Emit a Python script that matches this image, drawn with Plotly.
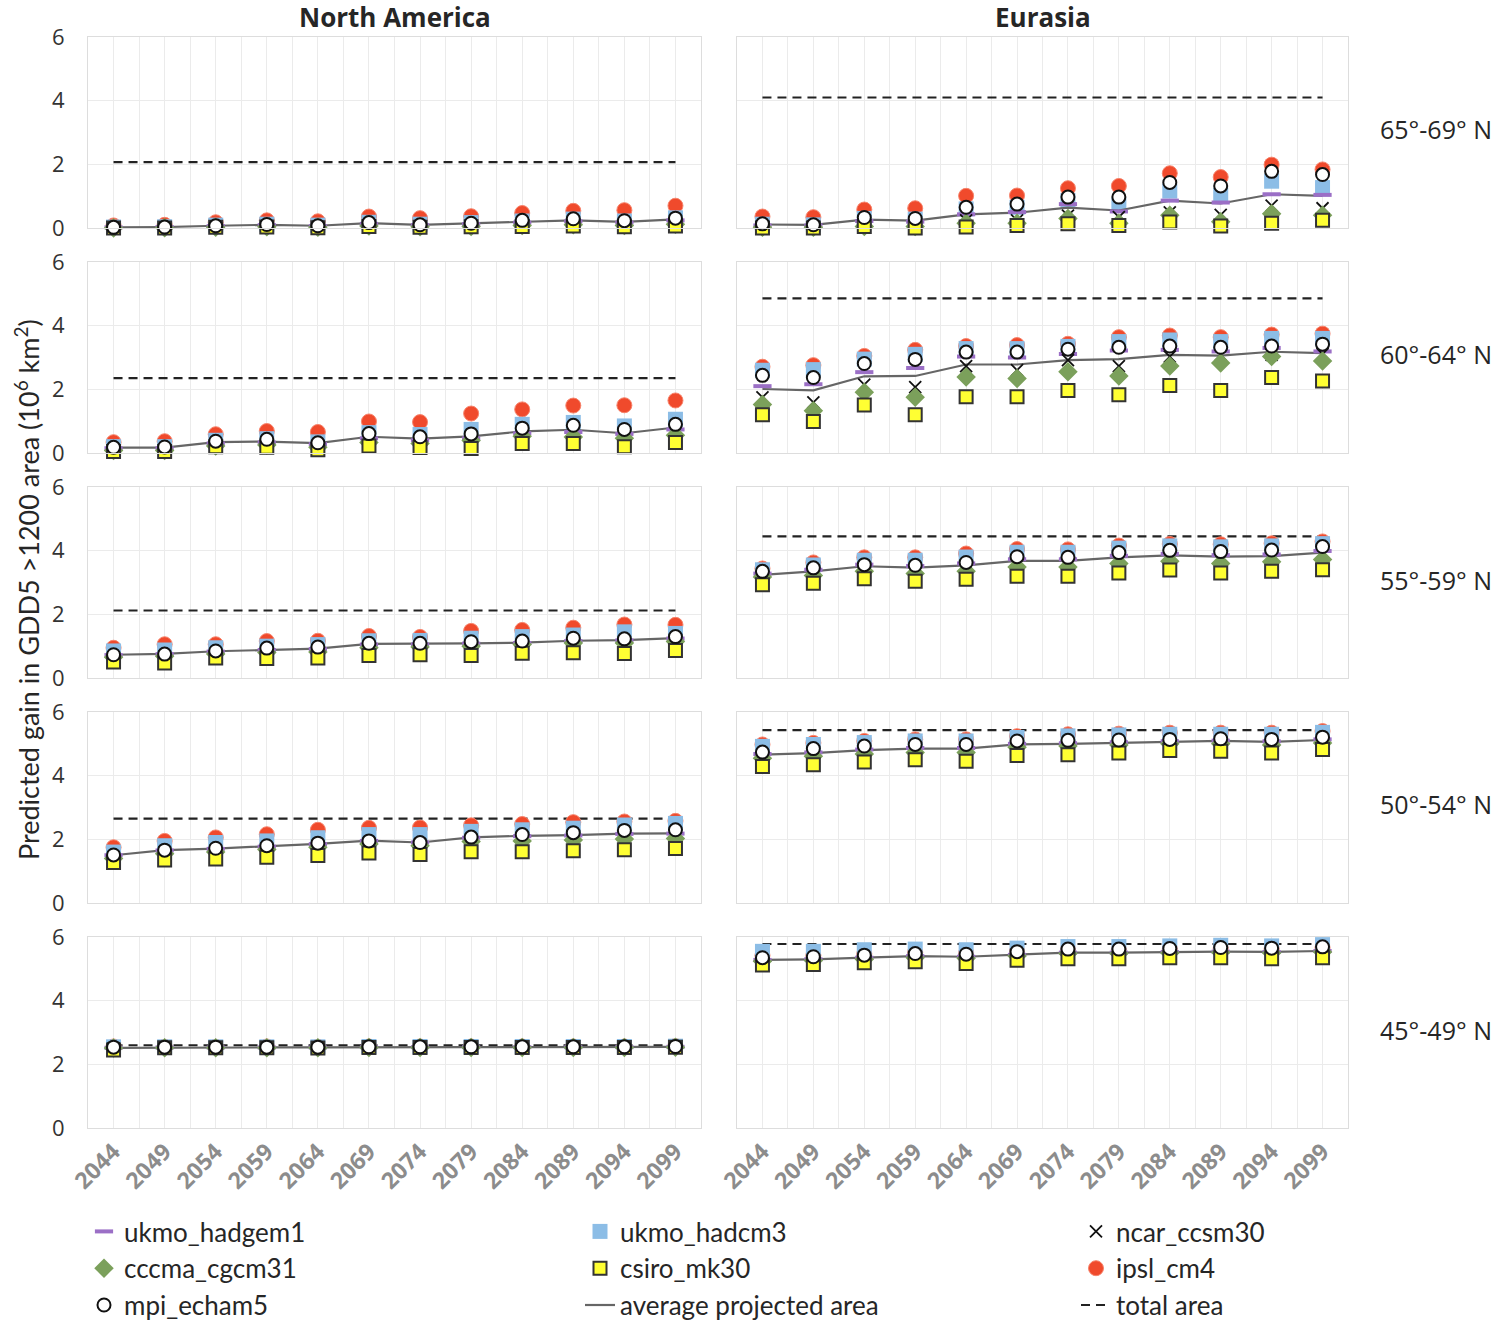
import plotly.graph_objects as go

YEARS = ["2044", "2049", "2054", "2059", "2064", "2069", "2074", "2079", "2084", "2089", "2094", "2099"]
ROW_LABELS = ["65°-69° N", "60°-64° N", "55°-59° N", "50°-54° N", "45°-49° N"]
COL_TITLES = ["North America", "Eurasia"]

TOTAL_NA = [2.07, 2.35, 2.12, 2.65, 2.60]
TOTAL_EU = [4.10, 4.86, 4.45, 5.43, 5.78]

NA_65 = {
    "ukmo_hadgem1": [0.02, 0.03, 0.06, 0.09, 0.06, 0.13, 0.09, 0.12, 0.17, 0.21, 0.17, 0.24],
    "ukmo_hadcm3": [0.03, 0.04, 0.09, 0.12, 0.09, 0.18, 0.12, 0.17, 0.22, 0.28, 0.22, 0.32],
    "ncar_ccsm30": [0.00, 0.01, 0.03, 0.05, 0.03, 0.08, 0.05, 0.07, 0.10, 0.12, 0.10, 0.14],
    "cccma_cgcm31": [0.00, 0.01, 0.02, 0.04, 0.02, 0.06, 0.04, 0.05, 0.08, 0.10, 0.08, 0.12],
    "csiro_mk30": [0.00, 0.00, 0.02, 0.03, 0.01, 0.05, 0.02, 0.04, 0.05, 0.06, 0.04, 0.06],
    "ipsl_cm4": [0.08, 0.10, 0.18, 0.24, 0.21, 0.36, 0.31, 0.37, 0.47, 0.54, 0.56, 0.70],
    "mpi_echam5": [0.02, 0.03, 0.07, 0.11, 0.07, 0.17, 0.10, 0.15, 0.24, 0.29, 0.23, 0.31],
    "average": [0.02, 0.03, 0.07, 0.10, 0.07, 0.15, 0.10, 0.14, 0.19, 0.24, 0.19, 0.27],
}
NA_60 = {
    "ukmo_hadgem1": [0.15, 0.15, 0.30, 0.33, 0.28, 0.46, 0.40, 0.46, 0.62, 0.66, 0.60, 0.74],
    "ukmo_hadcm3": [0.20, 0.20, 0.40, 0.45, 0.35, 0.64, 0.58, 0.74, 0.90, 0.96, 0.85, 1.06],
    "ncar_ccsm30": [0.10, 0.10, 0.26, 0.28, 0.22, 0.40, 0.36, 0.42, 0.60, 0.62, 0.52, 0.66],
    "cccma_cgcm31": [0.08, 0.08, 0.22, 0.25, 0.18, 0.33, 0.30, 0.39, 0.53, 0.50, 0.46, 0.56],
    "csiro_mk30": [0.05, 0.05, 0.20, 0.18, 0.10, 0.22, 0.17, 0.14, 0.30, 0.30, 0.20, 0.33],
    "ipsl_cm4": [0.34, 0.37, 0.59, 0.69, 0.66, 0.99, 0.97, 1.24, 1.37, 1.49, 1.50, 1.65],
    "mpi_echam5": [0.18, 0.19, 0.37, 0.43, 0.32, 0.61, 0.51, 0.60, 0.78, 0.87, 0.74, 0.90],
    "average": [0.17, 0.17, 0.34, 0.36, 0.31, 0.51, 0.45, 0.52, 0.68, 0.73, 0.62, 0.80],
}
NA_55 = {
    "ukmo_hadgem1": [0.72, 0.75, 0.83, 0.88, 0.91, 1.05, 1.05, 1.08, 1.10, 1.16, 1.18, 1.24],
    "ukmo_hadcm3": [0.85, 0.88, 0.95, 1.00, 1.05, 1.17, 1.18, 1.25, 1.30, 1.35, 1.45, 1.40],
    "ncar_ccsm30": [0.65, 0.68, 0.75, 0.80, 0.84, 0.97, 0.98, 1.00, 1.02, 1.08, 1.10, 1.15],
    "cccma_cgcm31": [0.65, 0.68, 0.75, 0.80, 0.82, 0.95, 0.97, 1.00, 1.05, 1.10, 1.10, 1.15],
    "csiro_mk30": [0.50, 0.47, 0.63, 0.61, 0.63, 0.71, 0.73, 0.71, 0.78, 0.79, 0.77, 0.86],
    "ipsl_cm4": [0.95, 1.06, 1.06, 1.16, 1.17, 1.32, 1.29, 1.48, 1.51, 1.58, 1.68, 1.67],
    "mpi_echam5": [0.73, 0.75, 0.85, 0.94, 0.97, 1.09, 1.09, 1.14, 1.16, 1.25, 1.23, 1.30],
    "average": [0.73, 0.76, 0.84, 0.89, 0.92, 1.07, 1.07, 1.09, 1.11, 1.17, 1.19, 1.25],
}
NA_50 = {
    "ukmo_hadgem1": [1.50, 1.65, 1.70, 1.77, 1.85, 1.95, 1.90, 2.05, 2.10, 2.12, 2.17, 2.18],
    "ukmo_hadcm3": [1.60, 1.80, 1.90, 1.95, 2.05, 2.15, 2.15, 2.25, 2.30, 2.35, 2.45, 2.50],
    "ncar_ccsm30": [1.45, 1.60, 1.65, 1.72, 1.80, 1.90, 1.85, 2.00, 2.05, 2.08, 2.12, 2.14],
    "cccma_cgcm31": [1.40, 1.55, 1.60, 1.68, 1.75, 1.85, 1.80, 1.93, 1.95, 1.98, 2.01, 2.03],
    "csiro_mk30": [1.27, 1.35, 1.38, 1.44, 1.49, 1.57, 1.52, 1.61, 1.61, 1.64, 1.67, 1.71],
    "ipsl_cm4": [1.75, 1.95, 2.06, 2.16, 2.30, 2.36, 2.37, 2.44, 2.48, 2.54, 2.56, 2.58],
    "mpi_echam5": [1.51, 1.66, 1.72, 1.80, 1.88, 1.95, 1.90, 2.07, 2.15, 2.21, 2.28, 2.30],
    "average": [1.50, 1.66, 1.71, 1.78, 1.86, 1.96, 1.90, 2.06, 2.11, 2.13, 2.18, 2.19],
}
NA_45 = {
    "ukmo_hadgem1": [2.52, 2.53, 2.53, 2.53, 2.53, 2.54, 2.54, 2.54, 2.54, 2.54, 2.54, 2.55],
    "ukmo_hadcm3": [2.55, 2.55, 2.55, 2.55, 2.55, 2.56, 2.56, 2.56, 2.56, 2.56, 2.56, 2.57],
    "ncar_ccsm30": [2.51, 2.52, 2.52, 2.52, 2.52, 2.53, 2.53, 2.53, 2.53, 2.53, 2.53, 2.54],
    "cccma_cgcm31": [2.51, 2.52, 2.52, 2.52, 2.52, 2.53, 2.53, 2.53, 2.53, 2.53, 2.53, 2.54],
    "csiro_mk30": [2.45, 2.52, 2.52, 2.52, 2.51, 2.53, 2.53, 2.53, 2.53, 2.53, 2.53, 2.54],
    "ipsl_cm4": [2.56, 2.55, 2.55, 2.56, 2.55, 2.56, 2.56, 2.56, 2.56, 2.56, 2.56, 2.57],
    "mpi_echam5": [2.54, 2.54, 2.54, 2.54, 2.54, 2.55, 2.55, 2.55, 2.55, 2.55, 2.55, 2.56],
    "average": [2.52, 2.53, 2.53, 2.53, 2.53, 2.54, 2.54, 2.54, 2.54, 2.54, 2.54, 2.55],
}
EU_65 = {
    "ukmo_hadgem1": [0.08, 0.08, 0.22, 0.20, 0.43, 0.50, 0.75, 0.52, 0.86, 0.80, 1.06, 1.04],
    "ukmo_hadcm3": [0.12, 0.10, 0.30, 0.28, 0.60, 0.65, 0.86, 0.72, 1.16, 1.03, 1.47, 1.27],
    "ncar_ccsm30": [0.05, 0.05, 0.10, 0.10, 0.24, 0.24, 0.39, 0.34, 0.49, 0.41, 0.70, 0.62],
    "cccma_cgcm31": [0.02, 0.02, 0.05, 0.05, 0.15, 0.15, 0.30, 0.15, 0.40, 0.20, 0.45, 0.40],
    "csiro_mk30": [0.00, 0.00, 0.05, 0.00, 0.03, 0.08, 0.13, 0.08, 0.19, 0.06, 0.15, 0.24],
    "ipsl_cm4": [0.36, 0.34, 0.58, 0.62, 1.01, 1.02, 1.25, 1.32, 1.72, 1.60, 1.99, 1.84],
    "mpi_echam5": [0.13, 0.10, 0.33, 0.30, 0.65, 0.75, 0.97, 0.97, 1.43, 1.32, 1.78, 1.68],
    "average": [0.11, 0.10, 0.26, 0.23, 0.43, 0.48, 0.64, 0.55, 0.86, 0.77, 1.06, 1.01],
}
EU_60 = {
    "ukmo_hadgem1": [2.10, 2.16, 2.54, 2.67, 3.03, 3.00, 3.11, 3.22, 3.24, 3.19, 3.30, 3.19],
    "ukmo_hadcm3": [2.60, 2.62, 2.95, 3.10, 3.28, 3.28, 3.35, 3.50, 3.55, 3.50, 3.60, 3.60],
    "ncar_ccsm30": [1.75, 1.59, 2.15, 2.07, 2.73, 2.60, 2.92, 2.73, 3.03, 3.08, 3.08, 3.11],
    "cccma_cgcm31": [1.52, 1.33, 1.91, 1.75, 2.39, 2.34, 2.55, 2.42, 2.73, 2.83, 3.03, 2.89],
    "csiro_mk30": [1.20, 0.99, 1.51, 1.20, 1.77, 1.77, 1.96, 1.83, 2.12, 1.96, 2.37, 2.26],
    "ipsl_cm4": [2.71, 2.76, 3.05, 3.24, 3.36, 3.39, 3.43, 3.64, 3.69, 3.64, 3.72, 3.75],
    "mpi_echam5": [2.44, 2.37, 2.81, 2.94, 3.17, 3.17, 3.26, 3.32, 3.36, 3.32, 3.36, 3.42],
    "average": [2.01, 1.97, 2.41, 2.42, 2.78, 2.78, 2.92, 2.95, 3.08, 3.06, 3.18, 3.14],
}
EU_55 = {
    "ukmo_hadgem1": [3.28, 3.40, 3.56, 3.52, 3.60, 3.73, 3.73, 3.84, 3.90, 3.86, 3.88, 3.99],
    "ukmo_hadcm3": [3.40, 3.55, 3.70, 3.70, 3.80, 3.95, 3.95, 4.08, 4.15, 4.12, 4.15, 4.22],
    "ncar_ccsm30": [3.15, 3.25, 3.42, 3.38, 3.45, 3.60, 3.60, 3.72, 3.80, 3.75, 3.78, 3.88],
    "cccma_cgcm31": [3.17, 3.22, 3.35, 3.28, 3.35, 3.49, 3.49, 3.60, 3.67, 3.60, 3.65, 3.72],
    "csiro_mk30": [2.93, 2.98, 3.12, 3.04, 3.10, 3.20, 3.20, 3.30, 3.39, 3.30, 3.35, 3.40],
    "ipsl_cm4": [3.44, 3.63, 3.79, 3.79, 3.91, 4.05, 4.04, 4.16, 4.21, 4.20, 4.23, 4.29],
    "mpi_echam5": [3.35, 3.46, 3.56, 3.54, 3.63, 3.81, 3.79, 3.94, 4.01, 3.97, 4.02, 4.13],
    "average": [3.24, 3.35, 3.51, 3.47, 3.54, 3.68, 3.68, 3.79, 3.85, 3.81, 3.83, 3.94],
}
EU_50 = {
    "ukmo_hadgem1": [4.68, 4.73, 4.82, 4.87, 4.87, 5.00, 5.02, 5.05, 5.08, 5.10, 5.08, 5.14],
    "ukmo_hadcm3": [4.92, 4.98, 5.04, 5.09, 5.09, 5.20, 5.25, 5.28, 5.30, 5.30, 5.30, 5.36],
    "ncar_ccsm30": [4.62, 4.67, 4.76, 4.80, 4.80, 4.94, 4.96, 5.00, 5.03, 5.05, 5.02, 5.08],
    "cccma_cgcm31": [4.55, 4.61, 4.68, 4.73, 4.73, 4.89, 4.93, 4.96, 5.00, 5.00, 4.96, 5.03],
    "csiro_mk30": [4.29, 4.34, 4.43, 4.50, 4.45, 4.63, 4.66, 4.71, 4.79, 4.77, 4.71, 4.82],
    "ipsl_cm4": [4.98, 5.03, 5.09, 5.14, 5.14, 5.24, 5.30, 5.32, 5.35, 5.35, 5.35, 5.40],
    "mpi_echam5": [4.74, 4.85, 4.93, 4.98, 4.98, 5.09, 5.11, 5.12, 5.14, 5.16, 5.14, 5.21],
    "average": [4.66, 4.71, 4.80, 4.85, 4.85, 4.98, 5.00, 5.03, 5.06, 5.09, 5.06, 5.12],
}
EU_45 = {
    "ukmo_hadgem1": [5.28, 5.30, 5.35, 5.40, 5.38, 5.44, 5.51, 5.51, 5.53, 5.54, 5.53, 5.56],
    "ukmo_hadcm3": [5.55, 5.55, 5.60, 5.62, 5.60, 5.65, 5.70, 5.70, 5.72, 5.74, 5.72, 5.76],
    "ncar_ccsm30": [5.25, 5.27, 5.32, 5.36, 5.35, 5.42, 5.50, 5.50, 5.52, 5.53, 5.52, 5.55],
    "cccma_cgcm31": [5.24, 5.26, 5.30, 5.35, 5.33, 5.40, 5.48, 5.48, 5.50, 5.51, 5.50, 5.53],
    "csiro_mk30": [5.12, 5.14, 5.19, 5.22, 5.17, 5.27, 5.32, 5.32, 5.35, 5.35, 5.32, 5.35],
    "ipsl_cm4": [5.42, 5.42, 5.47, 5.52, 5.50, 5.56, 5.60, 5.60, 5.62, 5.64, 5.62, 5.66],
    "mpi_echam5": [5.35, 5.38, 5.43, 5.48, 5.46, 5.54, 5.62, 5.62, 5.64, 5.67, 5.65, 5.69],
    "average": [5.28, 5.30, 5.35, 5.40, 5.38, 5.44, 5.51, 5.51, 5.53, 5.54, 5.53, 5.56],
}

PANELS_NA = [NA_65, NA_60, NA_55, NA_50, NA_45]
PANELS_EU = [EU_65, EU_60, EU_55, EU_50, EU_45]

# ---------------- styling ----------------
W, H = 1500, 1322
COL_PX = [(88, 701), (737, 1348)]
ROW_Y0 = 228      # pixel of y=0 in first row
ROW_PITCH = 225
ROW_H = 191

STYLES = {
    "ukmo_hadgem1": dict(marker=dict(symbol="line-ew", size=13, color="#9B6FC6",
                                     line=dict(width=4, color="#9B6FC6")), rank=1),
    "ukmo_hadcm3": dict(marker=dict(symbol="square", size=15, color="#8CBDE6",
                                    line=dict(width=0)), rank=2),
    "ncar_ccsm30": dict(marker=dict(symbol="x-thin", size=12, color="#111111",
                                    line=dict(width=1.8, color="#111111")), rank=3),
    "cccma_cgcm31": dict(marker=dict(symbol="diamond", size=15, color="#7BA05B",
                                     line=dict(width=0)), rank=4),
    "csiro_mk30": dict(marker=dict(symbol="square", size=13, color="#FFFF33",
                                   line=dict(width=2, color="#333333")), rank=5),
    "ipsl_cm4": dict(marker=dict(symbol="circle", size=15, color="#F04A2C",
                                 line=dict(width=1, color="#F7836B")), rank=6),
    "mpi_echam5": dict(marker=dict(symbol="circle", size=13, color="#FFFFFF",
                                   line=dict(width=2, color="#111111")), rank=7),
}
DRAW_ORDER = ["total", "ipsl_cm4", "ukmo_hadcm3", "average", "ukmo_hadgem1",
              "ncar_ccsm30", "cccma_cgcm31", "csiro_mk30", "mpi_echam5"]

fig = go.Figure()
xpos = list(range(len(YEARS)))
half_vals = [i - 0.5 for i in range(len(YEARS) + 1)]

axis_idx = 0
for c, (panels, totals) in enumerate([(PANELS_NA, TOTAL_NA), (PANELS_EU, TOTAL_EU)]):
    for r, panel in enumerate(panels):
        axis_idx += 1
        xa = "x" if axis_idx == 1 else f"x{axis_idx}"
        ya = "y" if axis_idx == 1 else f"y{axis_idx}"
        first = axis_idx == 1
        for key in DRAW_ORDER:
            if key == "total":
                fig.add_trace(go.Scatter(
                    x=xpos, y=[totals[r]] * len(YEARS), mode="lines", name="total area",
                    line=dict(color="#222222", width=2.2, dash="9px,6px"),
                    xaxis=xa, yaxis=ya, showlegend=first, legendrank=9, cliponaxis=False,
                    hoverinfo="skip"))
            elif key == "average":
                fig.add_trace(go.Scatter(
                    x=xpos, y=panel["average"], mode="lines", name="average projected area",
                    line=dict(color="#666666", width=2.2),
                    xaxis=xa, yaxis=ya, showlegend=first, legendrank=8, cliponaxis=False))
            else:
                st = STYLES[key]
                fig.add_trace(go.Scatter(
                    x=xpos, y=panel[key], mode="markers", name=key, marker=st["marker"],
                    xaxis=xa, yaxis=ya, showlegend=first, legendrank=st["rank"], cliponaxis=False))

        x0, x1 = COL_PX[c]
        y0px = ROW_Y0 + ROW_PITCH * r
        y6px = y0px - ROW_H
        bottom = r == len(panels) - 1
        xkey = "xaxis" if axis_idx == 1 else f"xaxis{axis_idx}"
        ykey = "yaxis" if axis_idx == 1 else f"yaxis{axis_idx}"
        fig.layout[xkey] = dict(
            domain=[x0 / W, x1 / W], anchor=ya, range=[-0.5, len(YEARS) - 0.5],
            tickmode="array", tickvals=xpos, ticktext=YEARS,
            showticklabels=bottom, tickangle=-45, ticks="",
            tickfont=dict(family="Open Sans", size=23, color="#8C8C8C", weight=700),
            showgrid=True, gridcolor="#EBEBEB", gridwidth=1, zeroline=False,
            minor=dict(tickmode="array", tickvals=half_vals, showgrid=True,
                       gridcolor="#EBEBEB", gridwidth=1, ticks=""),
            showline=True, linecolor="#DDDDDD", linewidth=1, mirror=True, automargin=False)
        fig.layout[ykey] = dict(
            domain=[1 - y0px / H, 1 - y6px / H], anchor=xa, range=[0, 6],
            tickmode="array", tickvals=[0, 2, 4, 6], showticklabels=(c == 0), ticks="",
            tickfont=dict(family="Open Sans", size=22, color="#333333"),
            ticklabelstandoff=18,
            showgrid=True, gridcolor="#EBEBEB", gridwidth=1, zeroline=False,
            showline=True, linecolor="#DDDDDD", linewidth=1, mirror=True, automargin=False)

annotations = []
for c, title in enumerate(COL_TITLES):
    x0, x1 = COL_PX[c]
    annotations.append(dict(text=f"<b>{title}</b>", x=(x0 + x1) / 2 / W, y=1 - 17 / H,
                            xref="paper", yref="paper", showarrow=False,
                            xanchor="center", yanchor="middle",
                            font=dict(family="Open Sans", size=26, color="#262626")))
for r, lab in enumerate(ROW_LABELS):
    yc = ROW_Y0 + ROW_PITCH * r - ROW_H / 2 - 3
    annotations.append(dict(text=lab, x=1436 / W, y=1 - yc / H, xref="paper", yref="paper",
                            showarrow=False, xanchor="center", yanchor="middle",
                            font=dict(family="Open Sans", size=25, color="#262626")))
annotations.append(dict(text="Predicted gain in GDD5 >1200 area (10<sup>6</sup> km<sup>2</sup>)",
                        x=27 / W, y=1 - 590 / H, xref="paper", yref="paper", showarrow=False,
                        textangle=-90, xanchor="center", yanchor="middle",
                        font=dict(family="Lato", size=27, color="#262626")))

fig.update_layout(
    width=W, height=H, margin=dict(l=0, r=0, t=0, b=0, autoexpand=False),
    paper_bgcolor="white", plot_bgcolor="white",
    annotations=annotations,
    legend=dict(orientation="h", x=84 / W, y=1 - 1208 / H, xanchor="left", yanchor="top",
                entrywidth=451, entrywidthmode="pixels", traceorder="normal",
                font=dict(family="Lato", size=26, color="#262626"),
                itemwidth=30, bgcolor="rgba(0,0,0,0)"),
)

fig.write_html("out.html", config={"displayModeBar": False},
               post_script="document.body.style.margin='0px';")
